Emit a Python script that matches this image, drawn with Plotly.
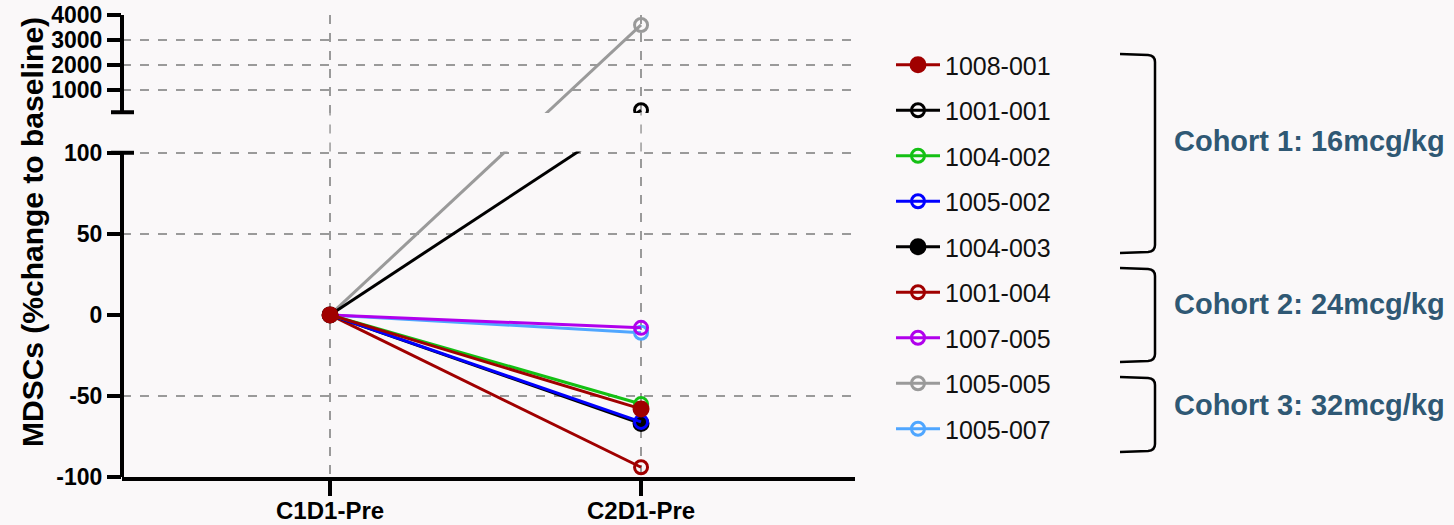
import plotly.graph_objects as go

# ---- data -------------------------------------------------------------
timepoints = ["C1D1-Pre", "C2D1-Pre"]
subjects = ["1008-001", "1001-001", "1004-002", "1005-002", "1004-003",
            "1001-004", "1007-005", "1005-005", "1005-007"]
c1d1_change = [0, 0, 0, 0, 0, 0, 0, 0, 0]
c2d1_change = [-58, 180, -55, -66, -67, -94, -8, 3600, -11]
y_tick_values = [-100, -50, 0, 50, 100, 1000, 2000, 3000, 4000]
cohort_labels = ["Cohort 1: 16mcg/kg", "Cohort 2: 24mcg/kg", "Cohort 3: 32mcg/kg"]

# ---- styles -----------------------------------------------------------
colors = ["#a00000", "#000000", "#14c014", "#0000ff", "#000000",
          "#a00000", "#b000ec", "#9a9a9a", "#4fa6ff"]
filled = [True, False, False, False, True, False, False, False, False]

# ---- broken y scale: lower segment -100..100, gap, upper segment 100..4000
LOW_TOP = 100.0
GAP = 25.0
UP_BOTTOM = 100.0
UP_SCALE = 0.01538


def to_axis(v):
    if v <= LOW_TOP:
        return v
    return LOW_TOP + GAP + (v - UP_BOTTOM) * UP_SCALE


Y_MIN = to_axis(-100)
Y_MAX = to_axis(4000)

# ---- figure geometry (pixels) ----------------------------------------
FIG_W, FIG_H = 1454, 525
M_L, M_R, M_T, M_B = 122, 599, 15, 48
PW = FIG_W - M_L - M_R
PH = FIG_H - M_T - M_B


def px_x(px):
    return (px - M_L) / PW


def px_y(py):
    return (FIG_H - M_B - py) / PH


BG = "#faf8f9"
FONT = "Liberation Sans, Arial, sans-serif"

fig = go.Figure()

# later subjects first so earlier ones sit on top
for i in reversed(range(len(subjects))):
    sym = "circle" if filled[i] else "circle-open"
    fig.add_trace(go.Scatter(
        x=timepoints,
        y=[to_axis(c1d1_change[i]), to_axis(c2d1_change[i])],
        mode="lines+markers",
        name=subjects[i],
        legendgroup=subjects[i],
        legendrank=i + 1,
        line=dict(color=colors[i], width=3),
        marker=dict(symbol=sym, size=14 if filled[i] else 13, color=colors[i],
                    line=dict(color=colors[i], width=3)),
        cliponaxis=True,
    ))

shapes = []
# dotted baseline at zero
shapes.append(dict(type="line", xref="paper", yref="y", x0=0, x1=1, y0=0, y1=0,
                   line=dict(color="#555555", width=2, dash="dot"), layer="between"))
# gap mask between the two y segments
shapes.append(dict(type="rect", xref="paper", yref="y", x0=0, x1=1,
                   y0=LOW_TOP + 0.8, y1=LOW_TOP + GAP - 0.4,
                   fillcolor=BG, line=dict(width=0), layer="above"))
# vertical grid continued through the gap
for tp in timepoints:
    shapes.append(dict(type="line", xref="x", yref="y", x0=tp, x1=tp,
                       y0=LOW_TOP + 0.8, y1=LOW_TOP + GAP - 0.4,
                       line=dict(color="#9a9a9a", width=1.5, dash="dash"), layer="above"))
# y axis line in two segments
shapes.append(dict(type="line", xref="paper", yref="y", x0=0, x1=0,
                   y0=Y_MIN, y1=LOW_TOP, line=dict(color="black", width=4), layer="above"))
shapes.append(dict(type="line", xref="paper", yref="y", x0=0, x1=0,
                   y0=LOW_TOP + GAP, y1=Y_MAX, line=dict(color="black", width=4), layer="above"))
# break caps
for yv in (LOW_TOP, LOW_TOP + GAP):
    shapes.append(dict(type="line", xref="paper", yref="y", x0=px_x(111), x1=px_x(134),
                       y0=yv, y1=yv, line=dict(color="black", width=4), layer="above"))

# cohort brackets
brackets = [(54, 253), (268, 362), (377, 452)]
for top, bot in brackets:
    pts = [("M", 1120, top), ("L", 1148, top + 1), ("Q", 1155, top + 1.5), ("", 1155, top + 8),
           ("L", 1155, bot - 8), ("Q", 1155, bot - 1.5), ("", 1148, bot - 1), ("L", 1120, bot)]
    path = " ".join(f"{c}{px_x(a):.5f},{px_y(b):.5f}" if c else f"{px_x(a):.5f},{px_y(b):.5f}"
                    for c, a, b in pts)
    shapes.append(dict(type="path", xref="paper", yref="paper", path=path,
                       line=dict(color="black", width=2.5)))

annotations = [dict(
    text="<b>MDSCs (%change to baseline)</b>", textangle=-90,
    xref="paper", yref="paper", x=px_x(32), y=px_y(232),
    xanchor="center", yanchor="middle", showarrow=False,
    font=dict(family=FONT, size=30, color="black"))]

cohort_y = [141, 304, 405]
for lbl, cy in zip(cohort_labels, cohort_y):
    annotations.append(dict(
        text=f"<b>{lbl}</b>", xref="paper", yref="paper",
        x=px_x(1447), y=px_y(cy), xanchor="right", yanchor="middle",
        showarrow=False, font=dict(family=FONT, size=29, color="#2f5874")))

fig.update_layout(
    width=FIG_W, height=FIG_H,
    margin=dict(l=M_L, r=M_R, t=M_T, b=M_B, autoexpand=False),
    paper_bgcolor=BG, plot_bgcolor=BG,
    showlegend=True,
    legend=dict(xref="container", yref="container",
                x=891 / FIG_W, y=1 - 42 / FIG_H, xanchor="left", yanchor="top",
                font=dict(family=FONT, size=25, color="#111111"),
                bgcolor="rgba(0,0,0,0)", tracegroupgap=10, itemwidth=44,
                traceorder="grouped", maxheight=520),
    xaxis=dict(
        type="category", categoryorder="array", categoryarray=timepoints,
        range=[-0.669, 1.688],
        showline=True, linecolor="black", linewidth=4,
        ticks="outside", ticklen=15, tickwidth=4, tickcolor="black",
        ticklabelstandoff=-6,
        showgrid=True, gridcolor="#9a9a9a", griddash="dash", gridwidth=1.5,
        tickfont=dict(family=FONT, size=24, color="black", weight="bold"),
        zeroline=False, fixedrange=True,
    ),
    yaxis=dict(
        range=[Y_MIN, Y_MAX],
        tickmode="array",
        tickvals=[to_axis(v) for v in y_tick_values],
        ticktext=[str(v) for v in y_tick_values],
        showline=False,
        ticks="outside", ticklen=14, tickwidth=4, tickcolor="black",
        showgrid=True, gridcolor="#9a9a9a", griddash="dash", gridwidth=1.5,
        zeroline=True, zerolinecolor=BG, zerolinewidth=3,
        tickfont=dict(family=FONT, size=23, color="black", weight="bold"),
        fixedrange=True,
    ),
    shapes=shapes,
    annotations=annotations,
)

fig.write_html("out.html")
